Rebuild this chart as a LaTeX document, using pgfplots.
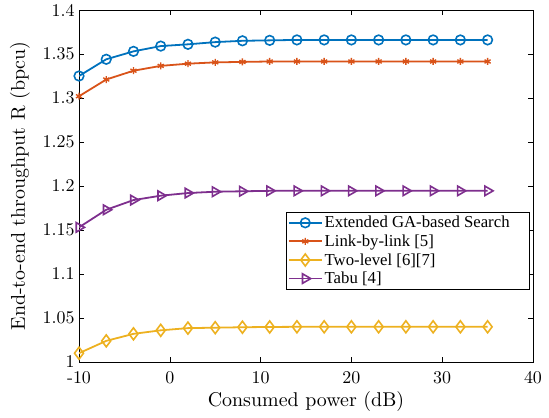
\documentclass[border=0pt]{standalone}
\usepackage{fontspec}
\setmainfont{lmroman10-regular.otf}
\newfontfamily\timesfont{Liberation Serif}
\usepackage{pgfplots}
\pgfplotsset{compat=1.18}
\definecolor{mblue}{rgb}{0,0.447,0.741}
\definecolor{morange}{rgb}{0.85,0.325,0.098}
\definecolor{myellow}{rgb}{0.929,0.694,0.125}
\definecolor{mpurple}{rgb}{0.494,0.184,0.556}
\begin{document}
\begin{tikzpicture}[x=1bp,y=1bp]
\begin{axis}[
  scale only axis,
  width=454bp, height=352bp,
  xmin=-10, xmax=40, ymin=1, ymax=1.4,
  xtick={-10,0,10,20,30,40},
  ytick={1,1.05,1.1,1.15,1.2,1.25,1.3,1.35,1.4},
  yticklabels={1,1.05,1.1,1.15,1.2,1.25,1.3,1.35,1.4},
  xticklabels={-10,0,10,20,30,40},
  tick align=inside,
  major tick length=5bp,
  axis line style={line width=0.6pt},
  tick style={line width=0.6pt, black},
  /pgf/number format/assume math mode=true,
  ticklabel style={font=\fontsize{18}{20}\selectfont},
  xticklabel style={yshift=-6bp},
  yticklabel style={xshift=-1bp},
  label style={font=\fontsize{20}{22}\selectfont},
  xlabel={Consumed power (dB)},
  ylabel={End-to-end throughput R (bpcu)},
  xlabel style={at={(axis description cs:0.5,-0.1122)}, anchor=center},
  ylabel style={at={(axis description cs:-0.13,0.5)}, anchor=center},
  legend style={at={(0.993,0.426)}, anchor=north east, font=\timesfont\fontsize{16.8}{18}\selectfont,
    draw=black, inner sep=2bp, row sep=1.5bp, cells={anchor=west}},
  legend cell align=left,
  legend image code/.code={\draw[line width=1.8pt, mark repeat=2,mark phase=2] plot coordinates {(0bp,0bp) (16.5bp,0bp) (33bp,0bp)};},
  every axis plot/.append style={line width=1.8pt},
]
\addplot[color=mblue, mark=o, mark size=4.8bp, mark options={line width=1.6pt}] coordinates {
(-10,1.325) (-7,1.344) (-4,1.353) (-1,1.359) (2,1.361) (5,1.3635) (8,1.365) (11,1.3655) (14,1.366) (17,1.366) (20,1.366) (23,1.366) (26,1.366) (29,1.366) (32,1.366) (35,1.366)};
\addlegendentry{Extended GA-based Search\hspace*{16bp}}
\addplot[color=morange, mark=asterisk, mark size=3.5bp, mark options={line width=1.4pt}] coordinates {
(-10,1.302) (-7,1.321) (-4,1.331) (-1,1.3365) (2,1.339) (5,1.3405) (8,1.341) (11,1.3415) (14,1.3415) (17,1.3415) (20,1.3415) (23,1.3415) (26,1.3415) (29,1.3415) (32,1.3415) (35,1.3415)};
\addlegendentry{Link-by-link [5]}
\addplot[color=myellow, mark=diamond, mark size=6bp, mark options={line width=1.6pt}] coordinates {
(-10,1.010) (-7,1.024) (-4,1.032) (-1,1.036) (2,1.0385) (5,1.039) (8,1.0395) (11,1.0398) (14,1.040) (17,1.040) (20,1.040) (23,1.040) (26,1.040) (29,1.040) (32,1.040) (35,1.040)};
\addlegendentry{Two-level [6][7]}
\addplot[color=mpurple, mark=triangle, mark size=5.5bp, mark options={rotate=-90, line width=1.6pt}] coordinates {
(-10,1.153) (-7,1.173) (-4,1.184) (-1,1.189) (2,1.192) (5,1.1935) (8,1.194) (11,1.1945) (14,1.1945) (17,1.1945) (20,1.1945) (23,1.1945) (26,1.1945) (29,1.1945) (32,1.1945) (35,1.1945)};
\addlegendentry{Tabu [4]}
\end{axis}
\pgfresetboundingbox
\path (current axis.south west) ++(-79bp,-56bp) rectangle ++(549bp,418bp);
\end{tikzpicture}
\end{document}
